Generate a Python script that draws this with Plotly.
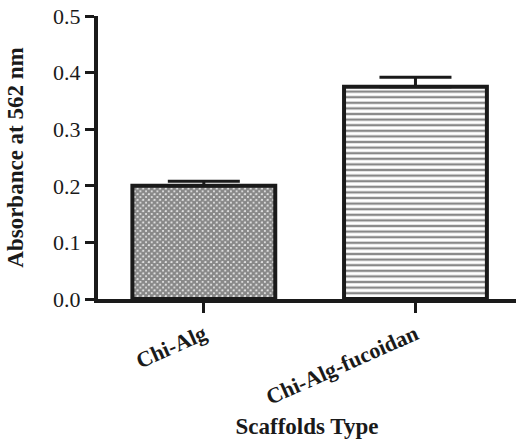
import plotly.graph_objects as go

categories = ["Chi-Alg", "Chi-Alg-fucoidan"]
values = [0.200, 0.375]
errors = [0.008, 0.017]
y_ticks = [0.0, 0.1, 0.2, 0.3, 0.4, 0.5]
y_ticktext = ["0.0", "0.1", "0.2", "0.3", "0.4", "0.5"]

serif = "Liberation Serif"

fig = go.Figure()
fig.add_trace(go.Bar(
    x=[0, 1], y=values, width=0.675,
    marker=dict(
        color="white",
        line=dict(color="#1a1a1a", width=4),
        pattern=dict(shape=["x", "-"], fgcolor="#111111", bgcolor="white",
                     size=[4, 5.6], solidity=[0.85, 0.42], fillmode="overlay"),
    ),
    error_y=dict(type="data", array=errors, arrayminus=[0, 0], symmetric=False,
                 color="#1a1a1a", thickness=3, width=36),
))

fig.update_layout(
    width=516, height=439,
    margin=dict(l=98, r=0, t=16, b=140, autoexpand=False),
    paper_bgcolor="white", plot_bgcolor="white",
    showlegend=False,
    font=dict(family=serif, color="#1a1a1a"),
    xaxis=dict(
        range=[-0.5, 1.475], tickmode="array", tickvals=[0, 1], ticktext=categories,
        tickangle=-24, ticks="outside", ticklen=10, tickwidth=3, tickcolor="#1a1a1a",
        showline=True, linewidth=4, linecolor="#1a1a1a", showgrid=False, zeroline=False,
        automargin=False,
        tickfont=dict(family=serif, size=22, color="#1a1a1a", weight="bold"),
        title=dict(text="<b>Scaffolds Type</b>", font=dict(family=serif, size=23), standoff=19),
    ),
    yaxis=dict(
        range=[0, 0.5], tickmode="array", tickvals=y_ticks, ticktext=y_ticktext,
        ticks="outside", ticklen=9, tickwidth=3, tickcolor="#1a1a1a",
        showline=True, linewidth=4, linecolor="#1a1a1a", showgrid=False, zeroline=False,
        automargin=False,
        tickfont=dict(family=serif, size=22, color="#1a1a1a"),
        title=dict(text="<b>Absorbance at 562 nm</b>", font=dict(family=serif, size=23), standoff=24),
    ),
)

fig.write_html("out.html")
